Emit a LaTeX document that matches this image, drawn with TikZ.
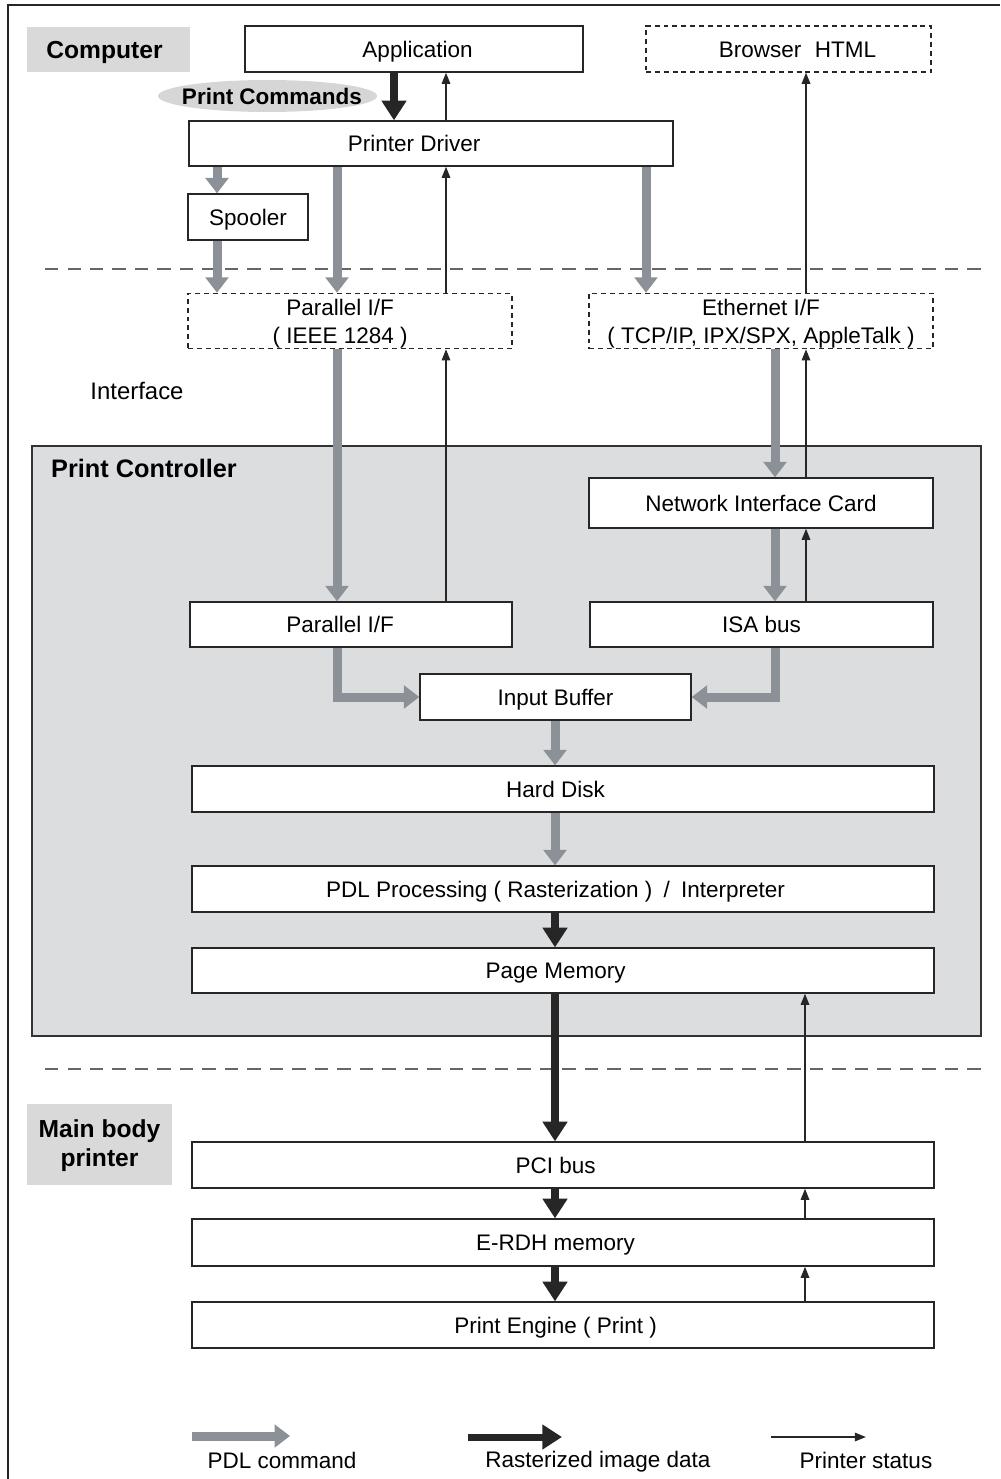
\documentclass[tikz,border=0pt]{standalone}
\usepackage{fontspec}
\setmainfont{Liberation Sans}
\usetikzlibrary{arrows.meta,shapes.geometric}
\definecolor{pdlgray}{HTML}{8B9197}
\definecolor{ctrlgray}{HTML}{DCDDDF}
\definecolor{lblgray}{HTML}{D9D9D9}
\definecolor{ellgray}{HTML}{D6D6D6}
\newcommand{\pxl}{0.025cm}

\begin{document}
\begin{tikzpicture}[x=\pxl,y=-\pxl,
    every node/.style={font=\fontsize{16}{20}\selectfont},
    txt/.style={text height=14.5pt,text depth=3pt},
    box/.style={txt,draw=black!85,line width=0.9pt,fill=white,inner sep=0pt,minimum height=46*\pxl},
    wide/.style={box,minimum width=742*\pxl,execute at end node={\hspace*{10.6pt}}},
    dbox/.style={draw=black!85,fill=white,inner sep=0pt,dash pattern=on 3.5pt off 2.8pt,line width=0.8pt},
    lbl/.style={fill=lblgray,inner sep=0pt,align=center,font=\fontsize{17.5}{21}\selectfont\bfseries},
    sep/.style={draw=black!60,line width=1pt,dash pattern=on 9.5pt off 6.5pt},
    pdl/.style={draw=pdlgray,line width=6.4pt,-{Triangle[width=16pt,length=11pt]}},
    blk/.style={draw=black!85,line width=5pt,-{Triangle[width=17pt,length=14pt]}},
    stat/.style={draw=black!85,line width=1.3pt,-{Triangle[width=6pt,length=8pt]}}]
      \useasboundingbox (0,0) rectangle (1000,1479);
      \draw[line width=1.4pt,black!85] (8,1479) -- (8,5) -- (1000,5);
      \draw[sep] (45,269) -- (982,269);
      \draw[sep] (45,1069) -- (982,1069);
      \draw
        (506.5,741) node[draw=black!80,line width=1.2pt,fill=ctrlgray,inner sep=0pt,
          minimum width=949*\pxl,minimum height=590*\pxl] (ctrl){}
        (108.5,49.5) node[lbl,text height=15.5pt,text depth=3pt,minimum width=163*\pxl,minimum height=45*\pxl] (complbl){Computer\hspace*{5.7pt}}
        (414,49) node[box,minimum width=338*\pxl] (app){\hspace*{5pt}Application}
        (788.5,49) node[box,dbox,minimum width=285*\pxl] (browser){\hspace*{12.8pt}Browser\hspace{0.6em}HTML}
        (267.5,96) node[ellipse,txt,fill=ellgray,inner xsep=-20pt,inner ysep=-3pt,minimum width=219*\pxl,minimum height=32*\pxl,
          font=\fontsize{16}{20}\selectfont\bfseries] (cmds){\hspace*{6.4pt}Print Commands}
        (431,143.5) node[box,minimum width=484*\pxl,minimum height=45*\pxl] (driver){Printer Driver\hspace*{24pt}}
        (248,217) node[box,minimum width=120*\pxl] (spool){Spooler}
        (350,321) node[dbox,minimum width=324*\pxl,minimum height=52*\pxl,align=center] (parext){\rule{0pt}{16pt}Parallel I/F\hspace*{14pt}\\( IEEE 1284 )\hspace*{14pt}}
        (761,321) node[dbox,minimum width=344*\pxl,minimum height=52*\pxl,align=center] (ethext){\rule{0pt}{16pt}Ethernet I/F\\( TCP/IP, IPX/SPX, AppleTalk )}
        (137,391) node[txt,font=\fontsize{17}{20}\selectfont] (iflbl){Interface}
        (144,469) node[txt,font=\fontsize{18}{21}\selectfont\bfseries] (ctrllbl){Print Controller}
        (761,503) node[box,minimum width=344*\pxl,minimum height=50*\pxl] (nic){Network Interface Card}
        (351,624.5) node[box,minimum width=322*\pxl,minimum height=45*\pxl] (parint){Parallel I/F\hspace*{15.5pt}}
        (761.5,624.5) node[box,minimum width=343*\pxl,minimum height=45*\pxl] (isa){ISA bus}
        (555.5,697) node[box,minimum width=271*\pxl] (buf){Input Buffer}
        (563,789) node[wide] (disk){Hard Disk}
        (563,889) node[wide] (rip){PDL Processing ( Rasterization )\hspace{0.5em}/\hspace{0.5em}Interpreter}
        (563,970.5) node[wide,minimum height=45*\pxl] (pmem){Page Memory}
        (99.5,1144.5) node[lbl,minimum width=145*\pxl,minimum height=81*\pxl] (mainlbl){\rule{0pt}{14.5pt}Main body\\printer}
        (563,1165) node[wide] (pci){PCI bus}
        (563,1242.5) node[wide,minimum height=47*\pxl] (erdh){E-RDH memory}
        (563,1325) node[wide] (engine){Print Engine ( Print )};
      % columns used by the connectors
      \coordinate (cA) at (217,0);
      \coordinate (cB) at (337,0);
      \coordinate (cC) at (394,0);
      \coordinate (cD) at (446,0);
      \coordinate (cE) at (646,0);
      \coordinate (cF) at (775,0);
      \coordinate (cG) at (806,0);
      \coordinate (cH) at (555,0);
      \coordinate (cI) at (805,0);
      \begin{scope}
        \draw[blk] (app.south -| cC) -- (driver.north -| cC);
        \draw[stat] (driver.north -| cD) -- (app.south -| cD);
        \draw[pdl] (driver.south -| cA) -- (spool.north -| cA);
        \draw[pdl] (spool.south -| cA) -- (parext.north -| cA);
        \draw[pdl] (driver.south -| cB) -- (parext.north -| cB);
        \draw[stat] (parext.north -| cD) -- (driver.south -| cD);
        \draw[pdl] (driver.south -| cE) -- (ethext.north -| cE);
        \draw[stat] (ethext.north -| cG) -- (browser.south -| cG);
        \draw[pdl] (parext.south -| cB) -- (parint.north -| cB);
        \draw[stat] (parint.north -| cD) -- (parext.south -| cD);
        \draw[pdl] (ethext.south -| cF) -- (nic.north -| cF);
        \draw[stat] (nic.north -| cG) -- (ethext.south -| cG);
        \draw[pdl] (nic.south -| cF) -- (isa.north -| cF);
        \draw[stat] (isa.north -| cG) -- (nic.south -| cG);
        \draw[pdl] (parint.south -| cB) |- (buf.west);
        \draw[pdl] (isa.south -| cF) |- (buf.east);
        \draw[pdl] (buf.south -| cH) -- (disk.north -| cH);
        \draw[pdl] (disk.south -| cH) -- (rip.north -| cH);
        \draw[blk] (rip.south -| cH) -- (pmem.north -| cH);
        \draw[blk] (pmem.south -| cH) -- (pci.north -| cH);
        \draw[stat] (pci.north -| cI) -- (pmem.south -| cI);
        \draw[blk] (pci.south -| cH) -- (erdh.north -| cH);
        \draw[stat] (erdh.north -| cI) -- (pci.south -| cI);
        \draw[blk] (erdh.south -| cH) -- (engine.north -| cH);
        \draw[stat] (engine.north -| cI) -- (erdh.south -| cI);
      \end{scope}
      % legend
      \coordinate (k1a) at (192,1436);
      \coordinate (k1b) at (290,1436);
      \coordinate (k2a) at (468,1437);
      \coordinate (k2b) at (562,1437);
      \coordinate (k3a) at (771,1437);
      \coordinate (k3b) at (866,1437);
      \draw[pdl] (k1a) -- (k1b);
      \draw[blk] (k2a) -- (k2b);
      \draw[stat] (k3a) -- (k3b);
      \draw
        (282,1460) node[txt] (k1t){PDL command}
        (598,1459) node[txt] (k2t){Rasterized image data}
        (866,1460) node[txt] (k3t){Printer status};
    \end{tikzpicture}
\end{document}
